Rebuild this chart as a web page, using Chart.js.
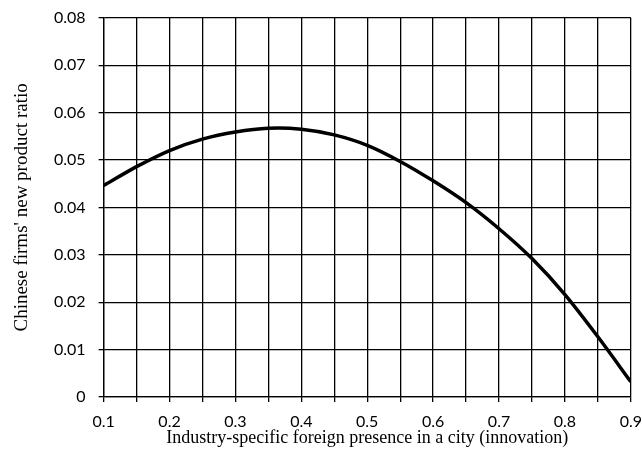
<!DOCTYPE html>
<html>
<head>
<meta charset="utf-8">
<script src="https://cdn.jsdelivr.net/npm/chart.js@4"></script>
<style>
  html, body { margin: 0; padding: 0; background: #fff; }
  #wrap { width: 642px; height: 463px; }
</style>
</head>
<body>
<div id="wrap"><canvas id="chart" width="642" height="463"></canvas></div>
<script>
// values, one point every 0.05
const presence = [0.1, 0.15, 0.2, 0.25, 0.3, 0.35, 0.4, 0.45, 0.5, 0.55, 0.6, 0.65, 0.7, 0.75, 0.8, 0.85, 0.9];
const newProductRatio = [0.0446, 0.0486, 0.0520, 0.0544, 0.0559, 0.0567, 0.0565, 0.0553, 0.0531, 0.0497, 0.0456, 0.0410, 0.0355, 0.0292, 0.0216, 0.0127, 0.0032];

const xTitle = 'Industry-specific foreign presence in a city (innovation)';
const yTitle = "Chinese firms' new product ratio";

const points = presence.map((x, i) => ({ x: x, y: newProductRatio[i] }));

const serif = '"Liberation Serif", "Times New Roman", serif';
const sans = 'Lato, "Open Sans", sans-serif';

new Chart(document.getElementById('chart').getContext('2d'), {
  type: 'line',
  data: {
    datasets: [{
      data: points,
      borderColor: '#000',
      borderWidth: 3.5,
      pointRadius: 0,
      tension: 0.3,
      fill: false
    }]
  },
  options: {
    responsive: false,
    animation: false,
    layout: { padding: { top: 2, right: 0, left: 13, bottom: 16 } },
    plugins: { legend: { display: false }, tooltip: { enabled: false } },
    scales: {
      x: {
        type: 'linear',
        min: 0.1,
        max: 0.9,
        grid: { color: '#000', lineWidth: 1.3, tickLength: 5, tickColor: '#000' },
        border: { color: '#000', width: 1.3 },
        ticks: {
          stepSize: 0.05,
          autoSkip: false,
          maxRotation: 0,
          color: '#000',
          // tall line box pushes the labels down without widening the side overhang
          font: { family: sans, size: 16, lineHeight: 2.5 },
          padding: 0,
          callback: v => (Math.round(v * 100) % 10 === 0 ? v.toFixed(1) : '')
        },
        title: {
          display: true, text: xTitle, color: '#000',
          font: { family: serif, size: 18, lineHeight: 1 },
          padding: { top: -13, bottom: 0 }
        }
      },
      y: {
        min: 0,
        max: 0.08,
        grid: { color: '#000', lineWidth: 1.3, tickLength: 5, tickColor: '#000' },
        border: { color: '#000', width: 1.3 },
        ticks: {
          stepSize: 0.01,
          color: '#000',
          font: { family: sans, size: 16, lineHeight: 0.6 },
          padding: 13,
          callback: v => (v === 0 ? '0' : v.toFixed(2))
        },
        title: {
          display: true, text: yTitle, color: '#000',
          font: { family: serif, size: 19, lineHeight: 1 },
          padding: { top: 0, bottom: 9 }
        }
      }
    }
  }
});
</script>
</body>
</html>
